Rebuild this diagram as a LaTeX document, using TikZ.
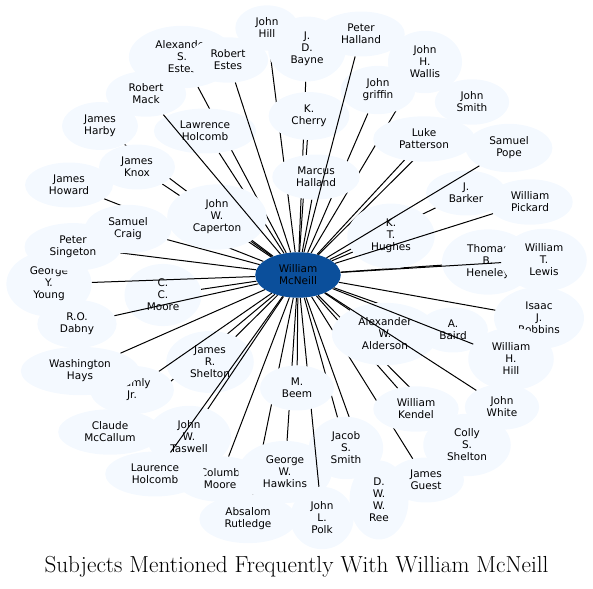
\documentclass[tikz,border=0pt]{standalone}
\usepackage{fontspec}
\newfontfamily\namefont{DejaVu Sans}
\usepackage{xcolor}
\definecolor{aliceblue}{HTML}{F4F9FF}
\definecolor{mcneillblue}{HTML}{0B4F9B}
\usepackage{tikz}
\usetikzlibrary{shapes.geometric}
\pgfdeclarelayer{edgesbelow}
\pgfdeclarelayer{edgesmid}
\pgfdeclarelayer{nodesabove}
\pgfdeclarelayer{edgesabove}
\pgfsetlayers{edgesbelow,main,edgesmid,nodesabove,edgesabove}

\begin{document}
\begin{tikzpicture}[
  x=1pt, y=-1pt,
  person/.style={ellipse, fill=aliceblue, inner xsep=11pt, inner ysep=6pt, font=\namefont\fontsize{10.5}{12}\selectfont, align=center},
  hub/.style={person, fill=mcneillblue},
  link/.style={line width=1pt, black},
  title/.style={font=\fontsize{23.2}{27}\selectfont, anchor=base},
]
\useasboundingbox (0,0) rectangle (593,588);

% Subjects (top)
\node[person] (bayne) at (307,49) {J.\\D.\\Bayne};
\node[person] (hill) at (267,28) {John\\Hill};
\node[person] (phalland) at (361,34) {Peter\\Halland};
\node[person] (asestes) at (182,57) {Alexander\\S.\\Estes};
\node[person] (restes) at (228,60) {Robert\\Estes};
\node[person] (wallis) at (425,62) {John\\H.\\Wallis};
\node[person] (griffin) at (378,90) {John\\griffin};
\node[person] (mack) at (146,94) {Robert\\Mack};
\node[person] (jsmith) at (472,102) {John\\Smith};
\node[person] (cherry) at (309,116) {K.\\Cherry};
\node[person] (harby) at (100,126) {James\\Harby};
\node[person] (lholcomb) at (205,131) {Lawrence\\Holcomb};
\node[person] (patterson) at (424,139) {Luke\\Patterson};
\node[person] (pope) at (509,148) {Samuel\\Pope};
\node[person] (knox) at (137,167) {James\\Knox};
\node[person] (mhalland) at (316,177) {Marcus\\Halland};
\node[person] (howard) at (69,185) {James\\Howard};
\node[person] (barker) at (466,193) {J.\\Barker};
\node[person] (pickard) at (530,202) {William\\Pickard};

% Subjects (middle)
\node[person] (caperton) at (217,217) {John\\W.\\Caperton};
\node[person] (craig) at (128,229) {Samuel\\Craig};
\node[person] (hughes) at (391,236) {K.\\T.\\Hughes};
\node[person] (young) at (49,284) {George\\Y.\\Young};
\node[person] (singeton) at (73,247) {Peter\\Singeton};
\node[person] (heneley) at (488,262) {Thomas\\B.\\Heneley};
\node[person] (lewis) at (544,260) {William\\T.\\Lewis};
\node[person] (moore) at (163,295) {C.\\C.\\Moore};
\node[person] (dabny) at (77,324) {R.O.\\Dabny};
\node[person] (robbins) at (539,318) {Isaac\\J.\\Robbins};
\node[person] (baird) at (453,330) {A.\\Baird};
\node[person] (alderson) at (385,334) {Alexander\\W.\\Alderson};
\node[person] (whill) at (511,359) {William\\H.\\Hill};
\node[person] (shelton) at (210,362) {James\\R.\\Shelton};

% Subjects (bottom)
\node[person] (bramly) at (132,390) {Bramly\\Jr.};
\node[person] (hays) at (80,371) {Washington\\Hays};
\node[person] (white) at (502,407) {John\\White};
\node[person] (kendel) at (416,409) {William\\Kendel};
\node[person] (mccallum) at (110,432) {Claude\\McCallum};
\node[person] (taswell) at (189,437) {John\\W.\\Taswell};
\node[person] (cshelton) at (467,445) {Colly\\S.\\Shelton};
\node[person] (jacob) at (346,448) {Jacob\\S.\\Smith};
\node[person] (columb) at (220,479) {Columb\\Moore};
\node[person] (hawkins) at (285,472) {George\\W.\\Hawkins};
\node[person] (laurence) at (155,474) {Laurence\\Holcomb};
\node[person] (guest) at (426,480) {James\\Guest};
\node[person] (ree) at (379,500) {D.\\W.\\W.\\Ree};
\node[person] (polk) at (322,518) {John\\L.\\Polk};
\node[person] (rutledge) at (248,519) {Absalom\\Rutledge};
\begin{pgfonlayer}{nodesabove}
\node[person] (beem) at (297,388) {M.\\Beem};
\end{pgfonlayer}

% Center
\node[hub] (mcneill) at (298,275) {William\\McNeill};

% Links hidden behind the ellipses
\begin{pgfonlayer}{edgesbelow}
\foreach \who in {hill, bayne, asestes, wallis, griffin, jsmith, cherry, harby,
  lholcomb, knox, mhalland, howard, barker, caperton, craig, hughes, singeton,
  moore, heneley, baird, alderson, shelton, kendel, mccallum, cshelton, jacob,
  hawkins, guest, ree, rutledge, beem}
  \draw[link] (mcneill) -- (\who);
\end{pgfonlayer}

% Polk runs over Smith and Hawkins, under Beem
\begin{pgfonlayer}{edgesmid}
\draw[link] (mcneill) -- (polk);
\end{pgfonlayer}

% Links drawn on top
\begin{pgfonlayer}{edgesabove}
\foreach \who in {phalland, restes, mack, young, dabny, hays, bramly, laurence,
  taswell, columb, whill, white, robbins, lewis, pickard, pope, patterson}
  \draw[link] (mcneill) -- (\who);
\end{pgfonlayer}

% Title
\node[title] (caption) at (296.5,572) {Subjects Mentioned Frequently With William McNeill};

\end{tikzpicture}
\end{document}
